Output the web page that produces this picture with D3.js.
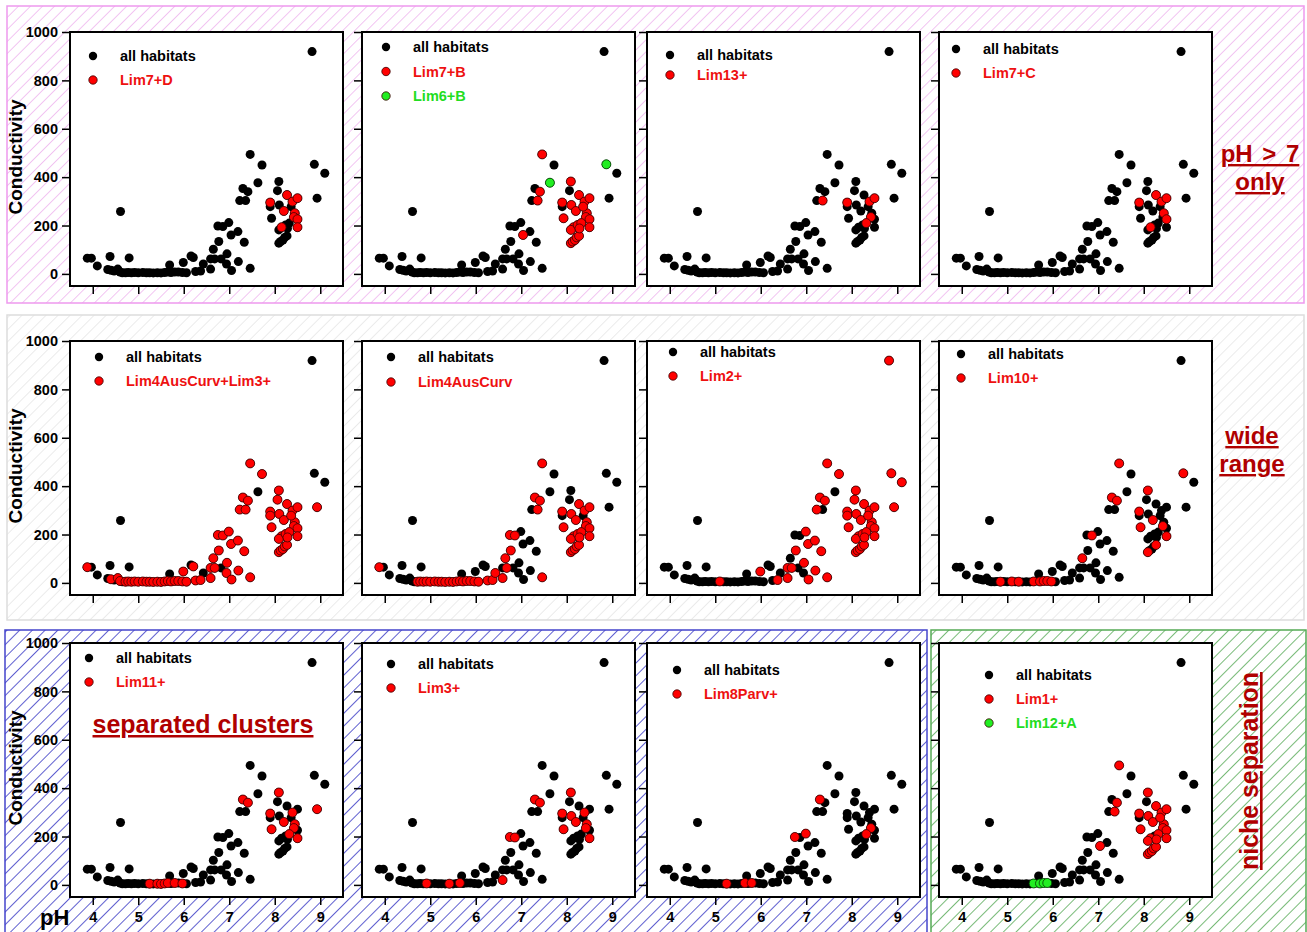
<!DOCTYPE html>
<html>
<head>
<meta charset="utf-8">
<script src="https://cdn.jsdelivr.net/npm/d3@7"></script>
<style>
  body { margin: 0; background: #fff; }
  svg { display: block; font-family: "Liberation Sans", Arial, sans-serif; }
</style>
</head>
<body>
<div id="chart"></div>
<script>
// all habitats: pH and conductivity of every site
var sitePH = [3.88, 3.97, 4.10, 4.38, 4.80, 4.61,
  4.33, 4.40, 4.47, 4.55, 4.60, 4.65, 4.72, 4.78, 4.85, 4.92, 5.00, 5.10, 5.18, 5.25,
  5.33, 5.42, 5.50, 5.58, 5.65, 5.69, 5.72, 5.80, 5.88, 5.97, 6.06, 5.99, 6.16, 6.21,
  6.26, 6.37, 6.43, 6.59, 6.59, 6.68, 6.65, 6.77, 6.75, 6.86, 6.82, 6.95, 6.99, 6.94,
  7.04, 7.05, 7.19, 7.20, 7.33, 7.23, 7.36, 7.30, 7.41, 7.46, 7.46, 7.72, 7.63,
  8.09, 8.06, 7.90, 7.90, 7.93, 8.10, 8.20, 8.27, 8.39, 8.50, 8.44, 8.42, 8.50, 8.50,
  8.15, 8.09, 8.09, 8.13, 8.18, 8.22, 8.27, 8.24, 8.32, 8.36, 8.28, 8.87, 9.10, 8.93, 8.82];
var siteCond = [65, 65, 33, 72, 66, 258,
  18, 15, 12, 20, 8, 5, 5, 6, 5, 6, 5, 6, 5, 5,
  4, 5, 4, 6, 8, 37, 6, 8, 8, 6, 5, 47, 74, 68,
  10, 12, 41, 20, 62, 62, 102, 134, 198, 196, 62, 83, 212, 41,
  161, 14, 175, 51, 131, 303, 303, 353, 340, 23, 494, 450, 377,
  382, 344, 295, 278, 230, 285, 260, 326, 299, 313, 251, 235, 226, 193,
  193, 182, 127, 134, 140, 151, 157, 202, 210, 278, 188, 453, 416, 313, 919];

// per panel: taxon names and the sites (indices) where they occur
var redNames = ["Lim7+D", "Lim7+B", "Lim13+", "Lim7+C",
  "Lim4AusCurv+Lim3+", "Lim4AusCurv", "Lim2+", "Lim10+",
  "Lim11+", "Lim3+", "Lim8Parv+", "Lim1+"];
var greenNames = [null, "Lim6+B", null, null, null, null, null, null, null, null, null, "Lim12+A"];

var redSites = [
  [63, 67, 68, 69, 70, 71, 72, 73, 74, 75],
  [48, 54, 56, 58, 61, 63, 65, 66, 67, 68, 69, 70, 71, 72, 73, 74, 75, 76, 77, 78, 79, 80, 81, 82, 83, 84, 85],
  [54, 63, 69, 70, 72, 83],
  [63, 68, 69, 70, 71, 73, 75],
  [0, 7, 9, 10, 12, 13, 14, 15, 16, 17, 18, 19, 20, 21, 22, 23, 24, 26, 27, 28, 29, 30, 31, 33, 34, 35, 37, 38, 39,
   40, 41, 42, 43, 45, 46, 47, 48, 49, 50, 51, 52, 53, 54, 55, 56, 57, 58, 59, 61, 62, 63, 64, 65, 66, 67, 68,
   69, 70, 71, 72, 73, 74, 75, 76, 77, 78, 79, 80, 81, 82, 83, 84, 85, 88],
  [0, 12, 13, 14, 15, 16, 17, 18, 19, 20, 21, 22, 23, 24, 26, 27, 28, 29, 30, 34, 35, 36, 37, 39, 40, 41, 42, 43,
   54, 55, 56, 57, 58, 63, 65, 66, 67, 68, 69, 70, 71, 72, 73, 74, 75, 76, 77, 78, 79, 80, 81, 82, 83, 85],
  [17, 31, 35, 37, 38, 39, 41, 45, 46, 48, 49, 50, 51, 52, 53, 55, 56, 57, 58, 59, 61, 62, 63, 64, 65, 66, 67,
   68, 69, 70, 71, 72, 73, 74, 75, 76, 77, 78, 79, 80, 81, 82, 83, 84, 85, 86, 87, 88, 89],
  [14, 17, 19, 23, 26, 27, 28, 29, 40, 43, 55, 56, 58, 61, 63, 65, 67, 72, 74, 77, 81, 86],
  [19, 21, 22, 23, 24, 27, 29, 55, 56, 61, 63, 65, 67, 69, 71, 72, 74, 83, 88],
  [15, 21, 24, 37, 42, 43, 55, 56, 61, 63, 65, 66, 67, 69, 71, 72, 74],
  [19, 24, 27, 42, 46, 55, 72, 83],
  [48, 54, 56, 58, 61, 63, 65, 66, 67, 68, 69, 70, 71, 72, 73, 74, 75, 76, 77, 78, 79, 80, 81, 83, 84, 85]
];
var greenSites = [[], [60, 86], [], [], [], [], [], [], [], [], [], [23, 26, 27, 28]];

var xTicks = [4, 5, 6, 7, 8, 9];
var yTicks = [0, 200, 400, 600, 800, 1000];

var W = 1307, H = 932;
var colLeft = [70, 362, 647, 939];
var rowTop = [32, 341, 643];
var pw = 273, ph = 254;
var r = 4.5;
// legend position inside each panel (dot x, first row y, row gap)
var legendPos = [[23, 24, 24], [24, 15, 24.5], [23, 23, 20], [17, 17, 24],
  [29, 16, 24], [29, 16, 25], [26, 11, 24], [22, 13, 24],
  [19, 15, 24], [29, 21, 24], [30, 27, 24], [50, 32, 24]];

var svg = d3.select("#chart").append("svg")
  .attr("width", W).attr("height", H);

var defs = svg.append("defs");
function hatch(id, color, gap, width) {
  var p = defs.append("pattern")
    .attr("id", id)
    .attr("patternUnits", "userSpaceOnUse")
    .attr("width", gap).attr("height", gap)
    .attr("patternTransform", "rotate(45)");
  p.append("line")
    .attr("x1", 0).attr("y1", 0).attr("x2", 0).attr("y2", gap)
    .attr("stroke", color).attr("stroke-width", width);
}
hatch("hPink", "#eba6eb", 8.5, 1.3);
hatch("hGray", "#e0e0e0", 8.5, 1.3);
hatch("hBlue", "#2a2ac0", 9, 1.5);
hatch("hGreen", "#3e9e3e", 9, 1.4);

// background boxes behind the rows
var boxes = [
  {x: 7, y: 6, w: 1297, h: 297, fill: "url(#hPink)", stroke: "#ee99ee"},
  {x: 7, y: 315, w: 1297, h: 305, fill: "url(#hGray)", stroke: "#dddddd"},
  {x: 5, y: 630, w: 922, h: 306, fill: "url(#hBlue)", stroke: "#4444cc"},
  {x: 931, y: 630, w: 375, h: 306, fill: "url(#hGreen)", stroke: "#55aa55"}
];
svg.selectAll("rect.box").data(boxes).enter().append("rect")
  .attr("class", "box")
  .attr("x", d => d.x).attr("y", d => d.y)
  .attr("width", d => d.w).attr("height", d => d.h)
  .attr("fill", "#fff").attr("stroke", "none");
svg.selectAll("rect.hatch").data(boxes).enter().append("rect")
  .attr("class", "hatch")
  .attr("x", d => d.x).attr("y", d => d.y)
  .attr("width", d => d.w).attr("height", d => d.h)
  .attr("fill", d => d.fill).attr("stroke", d => d.stroke).attr("stroke-width", 1.5);

var sites = sitePH.map((p, i) => ({ph: p, cond: siteCond[i]}));

redNames.forEach(function (name, k) {
  var row = Math.floor(k / 4), col = k % 4;
  var left = colLeft[col], top = rowTop[row];
  var x = d3.scaleLinear().domain([3.5, 9.5]).range([left, left + pw]);
  var y = d3.scaleLinear().domain([-50, 1000]).range([top + ph, top]);
  var g = svg.append("g");

  g.append("rect")
    .attr("x", left).attr("y", top).attr("width", pw).attr("height", ph)
    .attr("fill", "#fff");

  var yAxis = d3.axisLeft(y).tickValues(yTicks).tickSize(8).tickPadding(4)
    .tickFormat(col === 0 ? d3.format("d") : "");
  var ya = g.append("g").attr("transform", "translate(" + left + ",0)").call(yAxis);
  var xAxis = d3.axisBottom(x).tickValues(xTicks).tickSize(8).tickPadding(7)
    .tickFormat(row === 2 ? d3.format("d") : "");
  var xa = g.append("g").attr("transform", "translate(0," + (top + ph) + ")").call(xAxis);
  [ya, xa].forEach(function (a) {
    a.select(".domain").remove();
    a.selectAll("line").attr("stroke", "#000").attr("stroke-width", 1.5);
    a.selectAll("text").attr("font-size", 14.5).attr("font-weight", "bold")
      .attr("fill", "#000").attr("font-family", "Liberation Sans, Arial, sans-serif");
  });

  g.append("rect")
    .attr("x", left).attr("y", top).attr("width", pw).attr("height", ph)
    .attr("fill", "none").attr("stroke", "#000").attr("stroke-width", 2);

  g.append("g").selectAll("circle").data(sites).enter().append("circle")
    .attr("cx", d => x(d.ph)).attr("cy", d => y(d.cond)).attr("r", r)
    .attr("fill", "#000");

  g.append("g").selectAll("circle").data(redSites[k].map(i => sites[i])).enter().append("circle")
    .attr("cx", d => x(d.ph)).attr("cy", d => y(d.cond)).attr("r", r)
    .attr("fill", "#ff0000").attr("stroke", "#3a0000").attr("stroke-width", 0.8);

  g.append("g").selectAll("circle").data(greenSites[k].map(i => sites[i])).enter().append("circle")
    .attr("cx", d => x(d.ph)).attr("cy", d => y(d.cond)).attr("r", r)
    .attr("fill", "#22ee22").attr("stroke", "#003a00").attr("stroke-width", 0.8);

  // legend
  var lp = legendPos[k];
  var items = [{label: "all habitats", fill: "#000", text: "#000"},
    {label: name, fill: "#ff0000", text: "#ee1111"}];
  if (greenNames[k]) items.push({label: greenNames[k], fill: "#22ee22", text: "#22dd22"});
  items.forEach(function (it, j) {
    var cy = top + lp[1] + j * lp[2];
    g.append("circle").attr("cx", left + lp[0]).attr("cy", cy).attr("r", 4.2)
      .attr("fill", it.fill).attr("stroke", j ? "#3a0000" : "none").attr("stroke-width", 0.8);
    g.append("text").attr("x", left + lp[0] + 27).attr("y", cy + 5)
      .attr("font-size", 14.5).attr("font-weight", "bold").attr("fill", it.text)
      .text(it.label);
  });

  if (col === 0) {
    svg.append("text")
      .attr("transform", "translate(22," + (top + ph / 2 - 2) + ") rotate(-90)")
      .attr("text-anchor", "middle")
      .attr("font-size", 19).attr("font-weight", "bold")
      .text("Conductivity");
  }
});

svg.append("text").attr("x", 40).attr("y", 925)
  .attr("font-size", 22).attr("font-weight", "bold").text("pH");

// annotations
var dark = "#b00000";
function note(txt, cx, base, size, weight) {
  var t = svg.append("text").attr("x", cx).attr("y", base)
    .attr("text-anchor", "middle").attr("font-size", size)
    .attr("font-weight", weight).attr("fill", dark)
    .attr("text-decoration", "underline").text(txt);
  return t;
}
note("pH > 7", 1260, 162, 24, "bold").attr("word-spacing", 3);
note("only", 1260, 190, 24, "bold");
note("wide", 1252, 444, 24, "bold");
note("range", 1252, 472, 24, "bold");
note("separated clusters", 203, 733, 25, "bold");
svg.append("text")
  .attr("transform", "translate(1258,771) rotate(-90)")
  .attr("text-anchor", "middle").attr("font-size", 26).attr("font-weight", "bold")
  .attr("fill", dark).attr("text-decoration", "underline")
  .attr("textLength", 198).attr("lengthAdjust", "spacingAndGlyphs")
  .text("niche separation");
</script>
</body>
</html>
